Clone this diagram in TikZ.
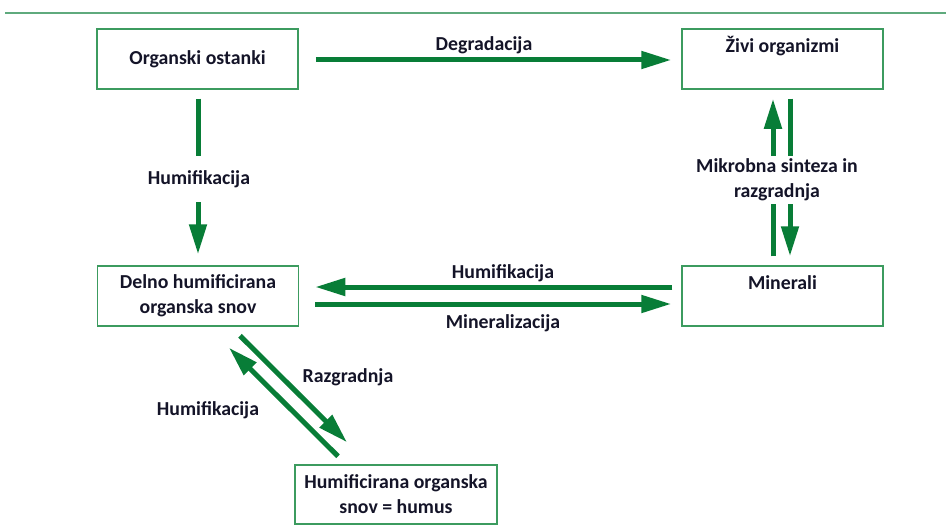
\documentclass[tikz,border=0pt]{standalone}
\usepackage{fontspec}
\setmainfont{Carlito}
\usetikzlibrary{arrows.meta}
\definecolor{arrowgreen}{RGB}{8,125,55}
\definecolor{boxgreen}{RGB}{60,155,95}
\definecolor{linegreen}{RGB}{95,170,125}
\definecolor{txt}{RGB}{20,20,40}
\tikzset{
  box/.style={draw=boxgreen, line width=1.5pt, minimum width=201pt, minimum height=60pt,
    align=center, inner sep=0pt, text=txt, font=\fontsize{19.8}{25}\selectfont\bfseries},
  lbl/.style={text=txt, align=center, inner sep=1pt, font=\fontsize{19.8}{25}\selectfont\bfseries},
  flow/.style={draw=arrowgreen, line width=5pt, -{Triangle[length=30pt,width=17pt]}},
}
\begin{document}
\begin{tikzpicture}[x=1pt,y=-1pt]
\useasboundingbox (0,0) rectangle (946,527);
\draw[linegreen, line width=2pt] (5,13) -- (946,13);

\node[box] (org) at (197.5,59) {Organski ostanki};
\node[box] (zivi) at (782.5,59) {};
\node[lbl] (zivit) at (782.5,46) {Živi organizmi};
\node[box] (delno) at (198,296) {Delno humificirana\\organska snov};
\node[box] (min) at (782.5,296) {};
\node[lbl] (mint) at (782.5,283) {Minerali};
\node[box, minimum width=202pt, minimum height=59pt] (humus) at (396,494.5) {Humificirana organska\\snov = humus};

% Degradacija
\draw[flow] ([shift={(17,1)}]org.east) -- ([shift={(-10,1)}]zivi.west);
\node[lbl] (degr) at (484,45) {Degradacija};

% left vertical
\draw[flow] ([shift={(0.5,9)}]org.south) -- ([shift={(0,-11)}]delno.north);
\node[lbl, fill=white, inner ysep=14pt] (humv) at (199,179) {Humifikacija};

% right verticals
\draw[flow] ([shift={(-9.5,-9)}]min.north) -- ([shift={(-9.5,9)}]zivi.south);
\draw[flow] ([shift={(7.5,9)}]zivi.south) -- ([shift={(7.5,-9)}]min.north);
\node[lbl, fill=white, inner ysep=2.5pt, inner xsep=2pt, align=center] (mikro) at (777,180) {Mikrobna sinteza in\\razgradnja};

% middle horizontals
\draw[flow] ([shift={(-9,-9)}]min.west) -- ([shift={(16,-9)}]delno.east);
\draw[flow] ([shift={(16,8)}]delno.east) -- ([shift={(-10,8)}]min.west);
\node[lbl] (humh) at (503,273) {Humifikacija};
\node[lbl] (miner) at (503,323) {Mineralizacija};

% diagonals
\draw[flow] ([shift={(42,9)}]delno.south) -- ([shift={(-49,-22)}]humus.north);
\draw[flow] ([shift={(-58,-8)}]humus.north) -- ([shift={(31,21)}]delno.south);
\node[lbl] (razg) at (348,377) {Razgradnja};
\node[lbl] (humd) at (208,410) {Humifikacija};
\end{tikzpicture}
\end{document}
